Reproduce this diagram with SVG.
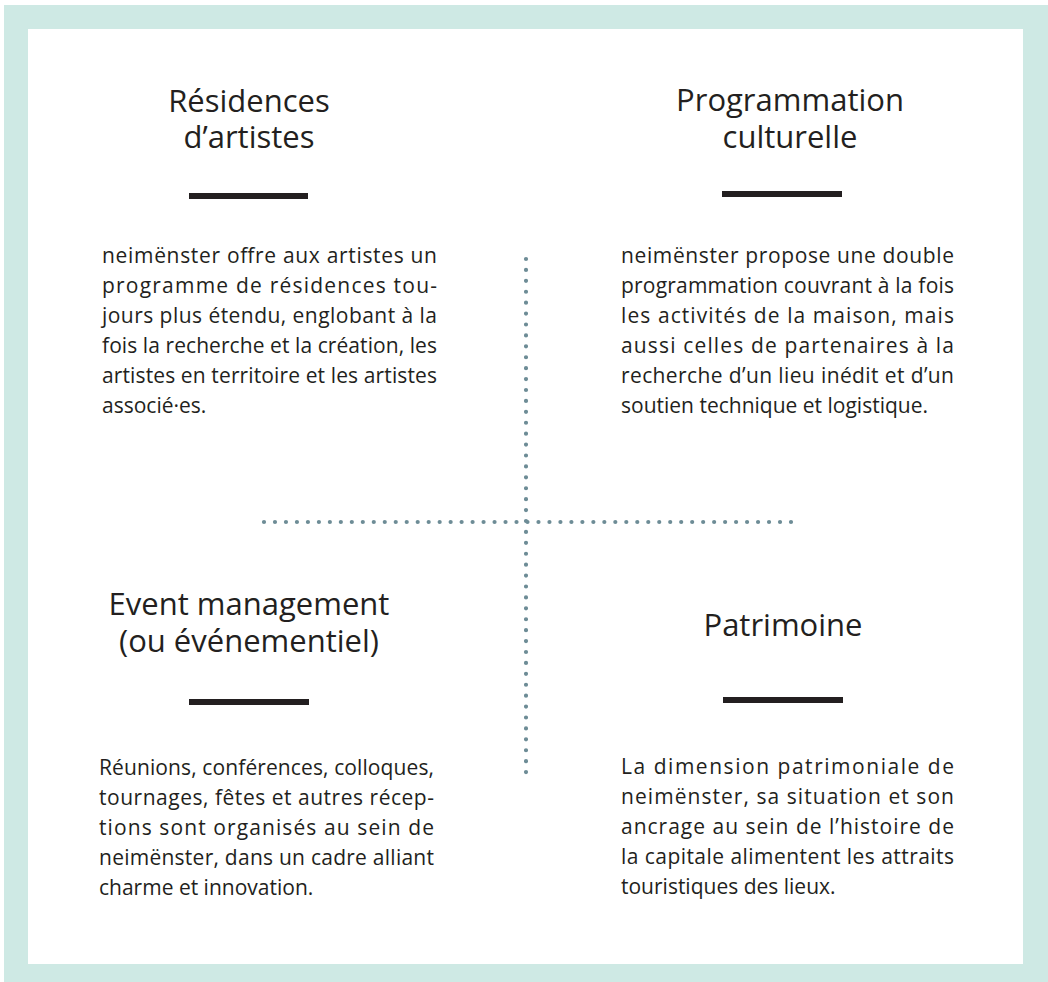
<svg xmlns="http://www.w3.org/2000/svg" width="1048" height="982" viewBox="0 0 1048 982">
<style>
.title{font-family:"Open Sans","Liberation Sans",sans-serif;font-size:31px;fill:#231f20;text-anchor:middle}
.body{font-family:"Open Sans","Liberation Sans",sans-serif;font-size:21px;fill:#231f20}
.bar{fill:#231f20}
.dots{stroke:#6d8c96;stroke-width:4.2;stroke-linecap:round;fill:none}
</style>
<rect x="0" y="0" width="1048" height="982" fill="#ffffff"/>
<rect x="4" y="5" width="1044" height="977" fill="#cee9e4"/>
<rect x="28" y="29" width="995" height="935" fill="#ffffff"/>

<g id="dividers">
<line class="dots" x1="526" y1="259" x2="526" y2="783" stroke-dasharray="0 10.917"/>
<line class="dots" x1="264" y1="522" x2="791" y2="522" stroke-dasharray="0 10.979"/>
</g>

<g id="residences">
<text class="title" x="249" y="112">Résidences</text>
<text class="title" x="249" y="148">d’artistes</text>
<rect class="bar" x="189" y="193" width="119" height="6"/>
<text class="body" x="102" y="263" textLength="335" lengthAdjust="spacing">neimënster offre aux artistes un</text>
<text class="body" x="102" y="293" textLength="335" lengthAdjust="spacing">programme de résidences tou-</text>
<text class="body" x="102" y="323" textLength="335" lengthAdjust="spacing">jours plus étendu, englobant à la</text>
<text class="body" x="102" y="353" textLength="335" lengthAdjust="spacing">fois la recherche et la création, les</text>
<text class="body" x="102" y="383" textLength="335" lengthAdjust="spacing">artistes en territoire et les artistes</text>
<text class="body" x="102" y="413">associé·es.</text>
</g>

<g id="programmation">
<text class="title" x="790" y="111">Programmation</text>
<text class="title" x="790" y="148">culturelle</text>
<rect class="bar" x="722" y="191" width="120" height="6"/>
<text class="body" x="621" y="263" textLength="333" lengthAdjust="spacing">neimënster propose une double</text>
<text class="body" x="621" y="293" textLength="333" lengthAdjust="spacing">programmation couvrant à la fois</text>
<text class="body" x="621" y="323" textLength="333" lengthAdjust="spacing">les activités de la maison, mais</text>
<text class="body" x="621" y="353" textLength="333" lengthAdjust="spacing">aussi celles de partenaires à la</text>
<text class="body" x="621" y="383" textLength="333" lengthAdjust="spacing">recherche d’un lieu inédit et d’un</text>
<text class="body" x="621" y="413">soutien technique et logistique.</text>
</g>

<g id="event">
<text class="title" x="249" y="615">Event management</text>
<text class="title" x="249" y="652">(ou événementiel)</text>
<rect class="bar" x="189" y="699" width="120" height="6"/>
<text class="body" x="99" y="775" textLength="335" lengthAdjust="spacing">Réunions, conférences, colloques,</text>
<text class="body" x="99" y="805" textLength="335" lengthAdjust="spacing">tournages, fêtes et autres récep-</text>
<text class="body" x="99" y="835" textLength="335" lengthAdjust="spacing">tions sont organisés au sein de</text>
<text class="body" x="99" y="865" textLength="335" lengthAdjust="spacing">neimënster, dans un cadre alliant</text>
<text class="body" x="99" y="895">charme et innovation.</text>
</g>

<g id="patrimoine">
<text class="title" x="783" y="636">Patrimoine</text>
<rect class="bar" x="723" y="697" width="120" height="6"/>
<text class="body" x="621" y="774" textLength="333" lengthAdjust="spacing">La dimension patrimoniale de</text>
<text class="body" x="621" y="804" textLength="333" lengthAdjust="spacing">neimënster, sa situation et son</text>
<text class="body" x="621" y="834" textLength="333" lengthAdjust="spacing">ancrage au sein de l’histoire de</text>
<text class="body" x="621" y="864" textLength="333" lengthAdjust="spacing">la capitale alimentent les attraits</text>
<text class="body" x="621" y="894">touristiques des lieux.</text>
</g>
</svg>
